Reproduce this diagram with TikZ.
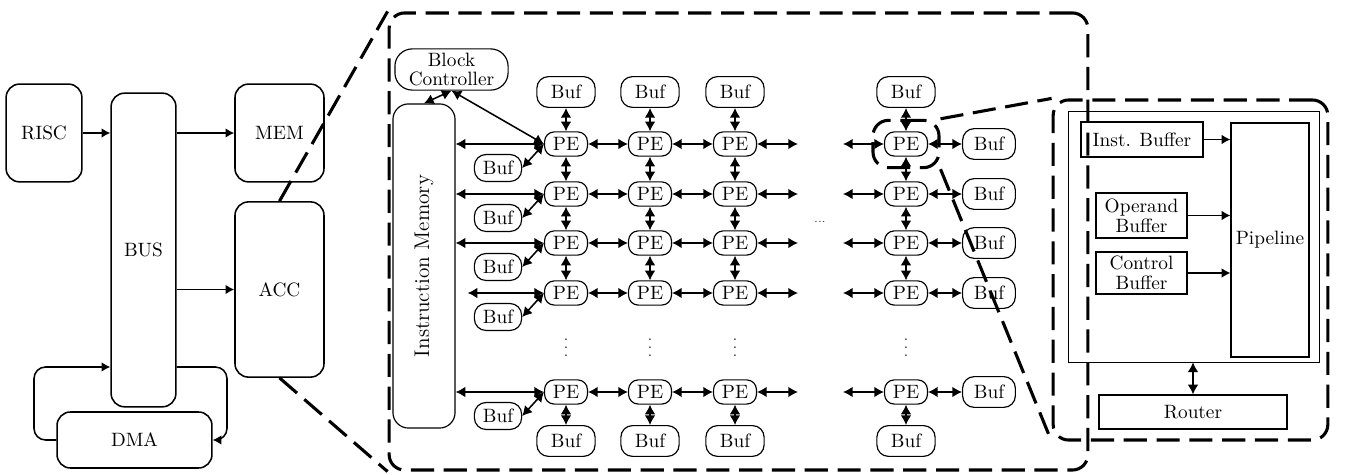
\documentclass[tikz,border=0pt]{standalone}
\usepackage{tikz}
\usetikzlibrary{positioning,calc,arrows.meta,fit}
\tikzset{
    blk/.style={draw, thick, rounded corners=7pt, align=center},
    pe/.style={draw, semithick, rounded corners=5pt, minimum width=0.78cm, minimum height=0.44cm, inner sep=0pt},
    buf/.style={draw, semithick, rounded corners=6pt, minimum width=0.86cm, minimum height=0.49cm, inner sep=0pt},
    bigbuf/.style={buf, minimum width=1.06cm, minimum height=0.56cm},
    sq/.style={draw, semithick, align=center, inner sep=1pt},
    arrow/.style={-{Latex[length=4.5pt,width=5pt]}, thick},
    dbl/.style={{Latex[length=5pt,width=5.5pt]}-{Latex[length=5pt,width=5.5pt]}, thick},
    zoomline/.style={ultra thick, dash pattern=on 12pt off 5pt},
}
\begin{document}
\begin{tikzpicture}[x=0.0182cm, y=-0.0182cm]
\useasboundingbox (0,0) rectangle (1346,475);
% system level
\node[blk, minimum width=1.38cm, minimum height=1.78cm] (risc) at (44,133) {RISC};
\node[blk, minimum width=1.18cm, minimum height=5.71cm] (bus) at (143.5,250) {BUS};
\node[blk, minimum width=1.62cm, minimum height=1.78cm] (mem) at (279.5,133) {MEM};
\node[blk, minimum width=1.62cm, minimum height=3.19cm] (acc) at (279.5,289.5) {ACC};
\node[blk, minimum width=2.82cm, minimum height=1.02cm] (dma) at (134.5,440) {DMA};
\draw[arrow] (risc) -- (risc -| bus.west);
\draw[arrow] (bus.east |- mem) -- (mem);
\draw[arrow] (bus.east |- acc) -- (acc);
% DMA goes round the bus on both sides
\coordinate (dmaL) at (34,367);
\coordinate (dmaR) at (227,367);
\draw[arrow, rounded corners=6pt] (dma.west) -| (dmaL) -- (bus.west |- dmaL);
\draw[arrow, rounded corners=6pt] (bus.east |- dmaR) -| (dma.east -| dmaR) -- (dma.east);

% the accelerator, zoomed
\node[draw, zoomline, rounded corners=8pt, minimum width=12.72cm, minimum height=8.32cm] (chip) at (738.5,241.5) {};
\draw[zoomline] (acc.north) -- (chip.north west);
\draw[zoomline] (acc.south) -- (chip.south west);
\node[blk, semithick, rounded corners=9pt, minimum width=2.06cm, minimum height=0.75cm, inner sep=1pt] (bc) at (451.5,69.5) {Block\\[-2pt]Controller};
\node[blk, semithick, rounded corners=8pt, minimum width=1.13cm, minimum height=5.9cm] (im) at (424,266) {\rotatebox{90}{\fontsize{11}{13}\selectfont Instruction Memory}};

% rows of PEs with a buffer on each side
\foreach \r/\y in {1/144,2/194,3/243,4/293,5/392}{
  \foreach \c/\x in {1/566,2/650,3/735,4/906}
    \node[pe] (pe\r\c) at (\x,\y) {PE};
  \node[buf] (lb\r) at (498,\y+24) {Buf};
  \node[buf, minimum width=0.96cm, minimum height=0.56cm] (rb\r) at (989,\y) {Buf};
  \coordinate (gl\r) at (798,\y);
  \coordinate (gr\r) at (843,\y);
  \draw[dbl] (lb\r.east) -- (pe\r1.west);
  \draw[dbl] (pe\r1) -- (pe\r2);
  \draw[dbl] (pe\r2) -- (pe\r3);
  \draw[dbl] (pe\r3) -- (gl\r);
  \draw[dbl] (gr\r) -- (pe\r4);
  \draw[dbl] (pe\r4) -- (rb\r);
}
% columns, with buffers on top and bottom
\foreach \c/\x in {1/566,2/650,3/735,4/906}{
  \node[bigbuf] (tb\c) at (\x,92) {Buf};
  \node[bigbuf] (bb\c) at (\x,441) {Buf};
  \node[inner sep=0pt] (vd\c) at (\x,342) {\scriptsize$\vdots$};
  \draw[dbl] (tb\c) -- (pe1\c);
  \draw[dbl] (pe1\c) -- (pe2\c);
  \draw[dbl] (pe2\c) -- (pe3\c);
  \draw[dbl] (pe3\c) -- (pe4\c);
  \draw[dbl] (pe5\c) -- (bb\c);
}
\node (hd) at (820,222) {\tiny ...};
\foreach \r in {1,2,3,5}
  \draw[dbl] (im.east |- pe\r1) -- (pe\r1.west);
\draw[dbl] ($(im.east |- pe41)+(12,0)$) -- (pe41.west);
\draw[dbl] (bc.south) -- (im.north);
\draw[dbl] (bc.south) -- (pe11.west);

% one PE, zoomed
\node[draw, zoomline, rounded corners=8pt, fit=(pe14), inner sep=0.2cm] (zoompe) {};
\node[draw, zoomline, rounded corners=8pt, minimum width=5.0cm, minimum height=6.19cm] (tile) at (1190.5,270) {};
\draw[zoomline] (zoompe.north east) -- (tile.north west);
\draw[zoomline] (zoompe.south east) -- (tile.south west);
\node[draw, thin, minimum width=4.57cm, minimum height=4.57cm] (core) at (1193.5,236.5) {};
\node[sq, thick, minimum width=2.22cm, minimum height=0.64cm] (ib) at (1142,139.5) {Inst. Buffer};
\node[sq, minimum width=1.42cm, minimum height=4.26cm] (pipe) at (1270,240) {Pipeline};
\node[sq, thick, minimum width=1.66cm, minimum height=0.82cm] (ob) at (1141.5,215.5) {Operand\\[-1.5pt]Buffer};
\node[sq, thick, minimum width=1.66cm, minimum height=0.76cm] (cb) at (1141.5,273) {Control\\[-1.5pt]Buffer};
\node[sq, minimum width=3.42cm, minimum height=0.62cm] (router) at (1193,412) {Router};
\draw[arrow] (ib) -- (ib -| pipe.west);
\draw[arrow] (ob) -- (ob -| pipe.west);
\draw[arrow] (cb) -- (cb -| pipe.west);
\draw[dbl] (router.north |- core.south) -- (router.north);
\end{tikzpicture}
\end{document}
